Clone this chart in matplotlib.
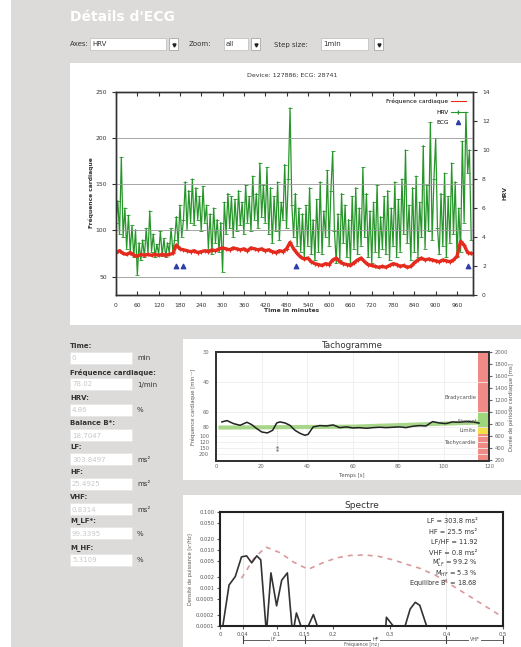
"""
ECG details page: 24h HR/HRV trend, tachogram and spectrum.
"""
import matplotlib
matplotlib.use("Agg")
import matplotlib.pyplot as plt
from matplotlib.patches import Rectangle
from matplotlib.lines import Line2D
import numpy as np

W, H = 521, 647

# ---- main trend (minutes) ----
HR_T = list(range(0, 1001, 10))
HR_VALS = [76, 78, 75, 74, 76, 73, 72, 74, 73, 74, 73, 74, 73, 74, 73, 74, 75, 84, 80, 79,
           78, 77, 78, 76, 77, 78, 77, 79, 78, 80, 81, 80, 79, 81, 80, 79, 80, 78, 81, 80,
           79, 80, 78, 79, 77, 76, 78, 77, 80, 87, 80, 75, 71, 69, 70, 66, 64, 63, 62, 64,
           63, 68, 70, 66, 64, 63, 62, 65, 68, 70, 66, 63, 62, 61, 60, 61, 60, 62, 64, 63,
           61, 62, 60, 61, 65, 68, 70, 68, 69, 68, 67, 66, 68, 67, 66, 68, 72, 88, 84, 76, 75]
HRV_T = list(range(0, 1001, 5))
HRV_VALS = [5.0, 6.5, 4.2, 9.5, 4.0, 6.0, 3.2, 5.5, 3.0, 4.8, 2.6, 4.5, 1.4, 3.6, 2.4, 3.8,
            2.6, 4.6, 2.8, 5.8, 3.0, 4.2, 2.6, 3.5, 2.8, 4.4, 2.7, 3.9, 2.6, 3.6, 2.9, 4.6,
            3.0, 3.8, 5.4, 3.4, 6.2, 4.0, 5.2, 7.8, 4.5, 7.2, 5.0, 8.0, 4.8, 7.4, 5.2, 6.8,
            4.4, 7.5, 5.0, 6.2, 3.2, 5.6, 2.8, 6.0, 3.6, 5.2, 3.0, 5.0, 1.6, 6.4, 4.2, 7.0,
            4.6, 6.8, 4.0, 6.6, 4.4, 7.2, 4.8, 6.4, 4.2, 7.6, 5.0, 6.8, 4.4, 8.2, 5.2, 7.0,
            4.6, 9.1, 5.4, 7.6, 5.0, 8.8, 4.2, 7.4, 3.6, 6.8, 4.4, 7.8, 3.8, 6.4, 5.2, 9.0,
            4.6, 8.0, 12.9, 6.2, 4.0, 7.0, 3.4, 6.0, 3.0, 5.6, 2.6, 6.2, 3.4, 7.4, 2.8, 5.2,
            2.4, 6.6, 3.0, 7.8, 2.8, 5.8, 4.0, 8.6, 3.4, 7.2, 9.9, 4.4, 2.2, 5.6, 2.4, 7.0,
            3.6, 6.2, 2.6, 5.2, 2.2, 6.8, 3.2, 7.4, 2.8, 6.0, 3.4, 8.8, 4.0, 7.0, 2.6, 5.8,
            2.2, 6.4, 3.0, 7.6, 2.6, 5.4, 3.2, 6.8, 2.8, 7.2, 2.4, 6.0, 3.4, 7.8, 2.6, 6.6,
            3.0, 8.0, 4.2, 10.0, 3.6, 6.2, 2.4, 7.4, 3.0, 8.2, 2.6, 6.4, 4.0, 10.3, 3.2, 7.6,
            4.4, 11.9, 3.8, 8.0, 10.8, 4.6, 2.8, 7.0, 3.4, 8.4, 2.6, 6.8, 3.6, 9.1, 4.2, 7.8,
            2.6, 6.0, 3.0, 10.6, 5.0, 12.6, 8.4, 10.0, 3.8]
ECG_T = [169, 188, 508, 990]
ECG_Y = [2, 2, 2, 2]
MAIN_XTICKS = list(range(0, 961, 60))

# ---- tachogram (seconds / RR in ms) ----
TACHO_T = [2.6, 4.8, 7.7, 10.6, 13.6, 15.7, 17.9, 20.1, 22.6, 24.9, 26.7, 28.1, 30.3, 32.5,
           34.7, 36.9, 39.1, 40.5, 42.7, 45.6, 48.6, 51.5, 54.4, 57.3, 60.2, 63.1, 66.1,
           69.0, 71.9, 74.8, 77.7, 80.6, 83.5, 86.5, 89.4, 92.3, 95.2, 98.1, 101.0, 104.0,
           106.9, 109.8, 112.7, 115.6]
TACHO_RR = [839, 861, 811, 783, 833, 794, 728, 672, 656, 700, 822, 839, 822, 783, 700, 650,
            617, 633, 756, 778, 772, 789, 744, 756, 739, 744, 733, 744, 750, 744, 750, 756,
            744, 767, 778, 772, 844, 822, 811, 839, 833, 844, 839, 820]
TREND_T = [2, 60, 116]
TREND_RR = [745, 760, 830]
HR_TICKS = [30, 40, 60, 80, 100, 120, 150, 200]
RR_TICKS = [200, 400, 600, 800, 1000, 1200, 1400, 1600, 1800, 2000]

# ---- spectrum ----
SPEC_F = [0.005, 0.016, 0.027, 0.038, 0.047, 0.056, 0.065, 0.072, 0.081, 0.083, 0.090,
          0.100, 0.109, 0.119, 0.127, 0.131, 0.135, 0.143, 0.156, 0.165, 0.172, 0.293,
          0.294, 0.306, 0.327, 0.336, 0.345, 0.353, 0.365]
SPEC_P = [0.0001, 0.0012, 0.002, 0.0066, 0.007, 0.0046, 0.007, 0.0055, 0.0001, 0.0001,
          0.0025, 0.00034, 0.0016, 0.0025, 0.0001, 0.0001, 0.00022, 0.0001, 0.0001, 0.0002,
          0.0001, 0.0001, 0.00017, 0.0001, 0.0001, 0.00028, 0.00042, 0.00035, 0.0001]
REF_F = [0.038, 0.06, 0.081, 0.106, 0.13, 0.156, 0.18, 0.206, 0.23, 0.256, 0.28, 0.306,
         0.33, 0.353, 0.38, 0.40, 0.448, 0.5]
REF_P = [0.0018, 0.006, 0.012, 0.0085, 0.0048, 0.0031, 0.0045, 0.0062, 0.0072, 0.0074,
         0.0068, 0.0055, 0.0042, 0.0033, 0.0022, 0.00145, 0.00052, 0.00017]
SPEC_YTICKS = [0.0001, 0.0002, 0.0005, 0.001, 0.002, 0.005, 0.01, 0.02, 0.05, 0.1]
SPEC_YLABELS = ["0.0001", "0.0002", "0.0005", "0.001", "0.002", "0.005", "0.010",
                "0.020", "0.050", "0.100"]
SPEC_XTICKS = [0, 0.04, 0.1, 0.15, 0.2, 0.3, 0.4, 0.5]
SPEC_XLABELS = ["0", "0.04", "0.1", "0.15", "0.2", "0.3", "0.4", "0.5"]
SPEC_TEXT = ["LF = 303.8 ms²", "HF = 25.5 ms²", "LF/HF = 11.92", "VHF = 0.8 ms²",
             r"M$_{LF}^{*}$ = 99.2 %", r"M$_{HF}$ = 5.3 %", r"Equilibre B$^{*}$ = 18.68"]

# ---- form fields ----
FIELD_LABELS = ["Time:", "Fréquence cardiaque:", "HRV:", "Balance B*:", "LF:", "HF:",
                "VHF:", "M_LF*:", "M_HF:"]
FIELD_VALUES = ["0", "78.02", "4.86", "18.7047", "303.8497", "25.4925", "0.8314",
                "99.3395", "5.3109"]
FIELD_UNITS = ["min", "1/min", "%", "", "ms²", "ms²", "ms²", "%", "%"]
FIELD_Y = [346, 372, 398, 423, 447, 472, 497, 521, 548]

GRAY = "#dcdbda"
FIELD_TXT = "#c9c9c9"


def box(l, t, r, b):
    return [l / W, 1 - b / H, (r - l) / W, (b - t) / H]


fig = plt.figure(figsize=(W / 100, H / 100), dpi=100)
fig.patch.set_facecolor("white")
bg = fig.add_axes([0, 0, 1, 1])
bg.set_xlim(0, W)
bg.set_ylim(H, 0)
bg.axis("off")

# page background and panels
bg.add_patch(Rectangle((11, 0), W - 11, H, color=GRAY, lw=0))
bg.add_patch(Rectangle((70, 63), W - 70, 262, color="white", lw=0))
bg.add_patch(Rectangle((183, 339), W - 183, 141, color="white", lw=0))
bg.add_patch(Rectangle((183, 495), W - 183, 152, color="white", lw=0))

bg.text(70, 17, "Détails d'ECG", color="white", fontsize=10, fontweight="bold", va="center")


def dropdown(x0, x1, bx, label):
    bg.add_patch(Rectangle((x0, 38), x1 - x0, 12, facecolor="white", edgecolor="#bbbbbb", lw=0.5))
    bg.text(x0 + 2, 44.5, label, fontsize=5, color="#333333", va="center")
    bg.add_patch(Rectangle((bx, 38), 9, 12, facecolor="white", edgecolor="#999999", lw=0.5))
    bg.plot([bx + 4.5], [44.5], marker="v", color="#222222", ms=2.2)


bg.text(70, 44.5, "Axes:", fontsize=5, color="#333333", va="center")
dropdown(90, 166, 169, "HRV")
bg.text(189, 44.5, "Zoom:", fontsize=5, color="#333333", va="center")
dropdown(224, 248, 251, "all")
bg.text(274, 44.5, "Step size:", fontsize=5, color="#333333", va="center")
dropdown(321, 368, 374, "1min")

# form fields
for lab, val, unit, y in zip(FIELD_LABELS, FIELD_VALUES, FIELD_UNITS, FIELD_Y):
    bg.text(70, y, lab, fontsize=5, fontweight="bold", color="#333333", va="center")
    bg.add_patch(Rectangle((70, y + 6), 62, 12, facecolor="white", edgecolor="#e4e4e4", lw=0.4))
    bg.text(72, y + 12.5, val, fontsize=5, color=FIELD_TXT, va="center")
    if unit:
        bg.text(137, y + 12.5, unit, fontsize=5, color="#333333", va="center")

# ---------------- main trend chart ----------------
bg.text(292, 75, "Device: 127886; ECG: 28741", fontsize=4.5, ha="center", va="center", color="#333333")
bg.text(91, 193, "Fréquence cardiaque", fontsize=4.3, rotation=90, ha="center", va="center",
        fontweight="bold", color="#333333")
bg.text(505, 193, "HRV", fontsize=4.3, rotation=90, ha="center", va="center",
        fontweight="bold", color="#333333")
bg.text(292, 311, "Time in minutes", fontsize=4.3, ha="center", va="center",
        fontweight="bold", color="#333333")

ax = fig.add_axes(box(116, 92, 473, 295))
ax2 = ax.twinx()
ax.set_zorder(ax2.get_zorder() + 1)
ax.patch.set_visible(False)

ax.set_xlim(0, 1005)
ax.set_ylim(30, 250)
ax2.set_ylim(0, 14)
ax.set_xticks(MAIN_XTICKS)
ax.set_yticks([50, 100, 150, 200, 250])
ax2.set_yticks(range(0, 15, 2))
ax.grid(axis="y", color="#999999", lw=0.6)
ax.tick_params(axis="x", direction="in", top=True, length=3, labelsize=4.3, pad=6,
               colors="#333333")
ax.tick_params(axis="y", direction="out", length=3, labelsize=4.3, colors="#333333")
ax2.tick_params(axis="y", direction="out", length=3, labelsize=4.3, colors="#333333")
for a in (ax, ax2):
    for s in a.spines.values():
        s.set_color("#333333")
        s.set_linewidth(1.0)

ax2.plot(HRV_T, HRV_VALS, color="#27962a", lw=0.9, marker="_", ms=2.5, mew=0.6)
ax2.scatter(ECG_T, ECG_Y, marker="^", s=10, color="#2c3fa8", zorder=5)
ax.plot(HR_T, HR_VALS, color="#e52a1e", lw=2.4, marker="+", ms=2.5, mew=0.8)

handles = [
    Line2D([0], [0], color="#e52a1e", lw=0.8),
    Line2D([0], [0], color="#27962a", lw=0.8, marker="|", ms=3),
    Line2D([0], [0], color="#2c3fa8", lw=0, marker="^", ms=3),
]
ax.legend(handles, ["Fréquence cardiaque", "HRV", "ECG"], loc="upper right",
          frameon=False, fontsize=4.2, markerfirst=False, handlelength=2.6,
          labelspacing=0.9, borderaxespad=0.8, handletextpad=0.4)

# ---------------- tachogram ----------------
bg.text(352, 345, "Tachogramme", fontsize=6.2, ha="center", va="center", color="#333333")
bg.text(352, 475, "Temps [s]", fontsize=3.8, ha="center", va="center", color="#555555")
bg.text(193, 407, "Fréquence cardiaque [min⁻¹]", fontsize=3.8, rotation=90,
        ha="center", va="center", color="#555555")
bg.text(511, 407, "Durée de période cardiaque [ms]", fontsize=3.8, rotation=90,
        ha="center", va="center", color="#555555")

at = fig.add_axes(box(216, 352, 489, 461))
at.set_xlim(0, 120)
at.set_ylim(190, 2000)
at.set_xticks(range(0, 121, 20))
rr_from_hr = [60000 / h for h in HR_TICKS]
at.set_yticks(rr_from_hr)
at.set_yticklabels([str(h) for h in HR_TICKS])
at.grid(True, color="#eeeeee", lw=0.6)
at.tick_params(axis="y", labelsize=3.8, colors="#666666", length=0, pad=5)
at.tick_params(axis="x", labelsize=3.8, colors="#666666", length=0, pad=2)
at2 = at.twinx()
at2.set_ylim(190, 2000)
at2.set_yticks(RR_TICKS)
at2.tick_params(labelsize=3.8, colors="#666666", length=2, pad=2)
for a in (at, at2):
    for s in a.spines.values():
        s.set_color("#333333")
        s.set_linewidth(1.3)

at.axvspan(115, 120, color="#f08a84", lw=0)
at.axhspan(760, 1000, xmin=115 / 120, xmax=1, color="#9ed67a", lw=0)
at.axhspan(640, 740, xmin=115 / 120, xmax=1, color="#f2e04a", lw=0)
at.text(114.5, 1250, "Bradycardie", fontsize=3.8, ha="right", va="center", color="#555555")
at.text(114.5, 850, "Normal", fontsize=3.8, ha="right", va="center", color="#555555")
at.text(114.5, 690, "Limite", fontsize=3.8, ha="right", va="center", color="#555555")
at.text(114.5, 490, "Tachycardie", fontsize=3.8, ha="right", va="center", color="#555555")

at.plot(TREND_T, TREND_RR, color="#9fd27f", lw=3.0, alpha=0.9)
at.plot(TACHO_T, TACHO_RR, color="#222222", lw=1.1)
at.plot([27, 27], [720, 380], color="#aaaaaa", lw=0.5, ls=":")
at.plot([27, 27], [430, 380], ls="none", marker=".", ms=1.5, color="#888888")

# ---------------- spectrum ----------------
bg.text(362, 505, "Spectre", fontsize=6.5, ha="center", va="center", color="#333333")
bg.text(190, 569, "Densité de puissance [s²/Hz]", fontsize=3.6, rotation=90,
        ha="center", va="center", color="#555555")

asp = fig.add_axes(box(220, 512, 503, 626))
asp.set_xlim(0, 0.5)
asp.set_yscale("log")
asp.set_ylim(0.0001, 0.1)
asp.set_yticks(SPEC_YTICKS)
asp.set_yticklabels(SPEC_YLABELS)
asp.minorticks_off()
asp.set_xticks(SPEC_XTICKS)
asp.set_xticklabels(SPEC_XLABELS)
asp.tick_params(labelsize=3.8, colors="#555555", length=2, pad=2)
for s in asp.spines.values():
    s.set_color("#222222")
    s.set_linewidth(1.5)
for f in (0.04, 0.15, 0.4):
    asp.axvline(f, color="#e3e3e3", lw=0.6, zorder=0)

asp.plot(REF_F, REF_P, color="#d99a9a", lw=1.2, ls=(0, (3, 3)))
asp.plot(SPEC_F, SPEC_P, color="#333333", lw=1.2)
for i, t in enumerate(SPEC_TEXT):
    asp.text(0.91, 0.92 - i * 0.092, t, transform=asp.transAxes, fontsize=4.8,
             ha="right", va="center", color="#333333")

# frequency band markers under the axis
yb = -0.12
bands = [(0.04, 0.15, "LF"), (0.15, 0.4, "HF"), (0.4, 0.5, "VHF")]
for f0, f1, name in bands:
    asp.plot([f0, f1], [yb, yb], color="#444444", lw=0.6,
             transform=asp.get_xaxis_transform(), clip_on=False)
    asp.text((f0 + f1) / 2, yb, name, transform=asp.get_xaxis_transform(), fontsize=3.6,
             ha="center", va="center", color="#555555",
             bbox=dict(facecolor="white", edgecolor="none", pad=0.6))
for f in (0.04, 0.15, 0.4, 0.5):
    asp.plot([f, f], [yb - 0.03, yb + 0.03], color="#444444", lw=0.8,
             transform=asp.get_xaxis_transform(), clip_on=False)
bg.text(362, 644, "Fréquence [Hz]", fontsize=3.3, ha="center", va="center", color="#555555")

fig.savefig("out.png", dpi=100, facecolor="white")
